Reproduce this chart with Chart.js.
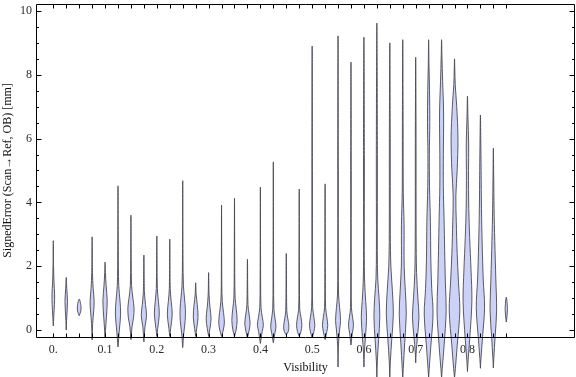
<!DOCTYPE html>
<html lang="es">
<head>
<meta charset="utf-8">
<title>SignedError vs Visibility</title>
<script src="https://cdn.jsdelivr.net/npm/chart.js@4.4.1/dist/chart.umd.min.js"></script>
<style>
    html, body { margin: 0; padding: 0; background: #fff; }
    #contenedor { width: 576px; height: 377px; }
</style>
</head>
<body>
<div id="contenedor"><canvas id="violines"></canvas></div>
<script>
// violines.js - error firmado por visibilidad

// Posición de cada violín (visibilidad)
const visibility = [0, 0.025, 0.05, 0.075, 0.1, 0.125, 0.15, 0.175, 0.2, 0.225, 0.25, 0.275,
    0.3, 0.325, 0.35, 0.375, 0.4, 0.425, 0.45, 0.475, 0.5, 0.525, 0.55, 0.575,
    0.6, 0.625, 0.65, 0.675, 0.7, 0.725, 0.75, 0.775, 0.8, 0.825, 0.85, 0.875];

// Extremos de cada distribución [mm]
const minVals = [0.13, 0.0, 0.45, -0.31, -0.25, -0.53, -0.3, -0.37, -0.2, -0.2, -0.55, -0.2,
    -0.2, -0.2, -0.2, -0.25, -0.42, -0.4, -0.15, -0.2, -0.25, -0.3, -1.16, -0.47,
    -1.16, -1.5, -1.5, -1.5, -1.03, -1.5, -1.5, -1.5, -1.3, -1.2, -1.19, 0.25];
const maxVals = [2.8, 1.65, 0.97, 2.92, 2.13, 4.52, 3.6, 2.35, 2.95, 2.85, 4.68, 1.48,
    1.8, 3.92, 4.13, 2.22, 4.48, 5.27, 2.4, 4.42, 8.9, 4.58, 9.22, 8.4,
    9.18, 9.62, 9.0, 9.1, 8.55, 9.1, 9.1, 8.5, 7.33, 6.74, 5.7, 1.03];

// Perfil de densidad de cada violín: [valor, densidad relativa]
const profiles = [
    [[0.4, 0.5], [0.8, 1.3], [1.1, 1.5], [1.5, 0.8], [2.0, 0.3]],
    [[0.3, 0.4], [0.9, 1.4], [1.3, 0.6]],
    [[0.6, 1.9], [0.78, 1.9]],
    [[0.2, 0.6], [0.6, 1.8], [0.9, 2.3], [1.3, 1.2], [1.8, 0.4]],
    [[0.2, 1.0], [0.6, 2.0], [0.95, 2.4], [1.4, 1.2], [1.8, 0.4]],
    [[0.0, 1.5], [0.5, 3.0], [0.9, 2.3], [1.4, 0.8], [2.5, 0.3]],
    [[0.1, 1.2], [0.4, 3.0], [0.7, 3.5], [1.0, 2.2], [1.4, 0.7], [2.2, 0.3]],
    [[0.1, 1.2], [0.45, 3.0], [0.8, 1.8], [1.2, 0.6]],
    [[0.05, 1.0], [0.5, 2.8], [0.9, 1.8], [1.3, 0.6]],
    [[0.05, 1.0], [0.5, 2.8], [0.9, 1.6], [1.3, 0.5]],
    [[-0.1, 1.2], [0.3, 2.8], [0.65, 3.0], [1.0, 2.0], [1.4, 0.8], [2.2, 0.3]],
    [[0.05, 1.2], [0.4, 2.7], [0.8, 1.8], [1.1, 0.6]],
    [[0.05, 1.5], [0.35, 2.8], [0.7, 1.6], [1.1, 0.5]],
    [[0.0, 2.0], [0.25, 3.2], [0.55, 2.2], [0.9, 0.8], [1.4, 0.3]],
    [[0.0, 1.8], [0.3, 3.0], [0.65, 2.0], [1.0, 0.7], [1.8, 0.3]],
    [[0.0, 2.0], [0.22, 3.0], [0.5, 1.8], [0.8, 0.6]],
    [[-0.05, 2.0], [0.15, 3.4], [0.4, 2.2], [0.7, 0.7], [1.5, 0.3]],
    [[-0.1, 1.8], [0.1, 3.0], [0.35, 2.0], [0.65, 0.7], [1.5, 0.3]],
    [[-0.05, 2.2], [0.12, 3.0], [0.35, 1.8], [0.6, 0.6]],
    [[-0.05, 2.0], [0.15, 3.0], [0.4, 2.0], [0.65, 0.6], [1.5, 0.3]],
    [[-0.05, 2.0], [0.15, 3.0], [0.4, 2.0], [0.7, 0.6], [2.0, 0.3], [5.0, 0.3]],
    [[-0.05, 2.0], [0.15, 3.0], [0.4, 2.0], [0.7, 0.6], [1.8, 0.3]],
    [[-0.5, 0.4], [0.0, 1.8], [0.3, 2.8], [0.7, 1.8], [1.1, 0.6], [2.0, 0.3], [5.0, 0.3]],
    [[-0.1, 1.5], [0.15, 2.8], [0.4, 1.8], [0.7, 0.5], [2.0, 0.3], [5.0, 0.3]],
    [[-0.7, 0.5], [-0.2, 1.8], [0.4, 3.0], [0.9, 2.0], [1.5, 0.8], [2.5, 0.4], [5.5, 0.5]],
    [[-1.0, 0.5], [-0.3, 2.0], [0.4, 3.3], [1.0, 2.5], [1.6, 1.0], [2.5, 0.5], [5.5, 0.6]],
    [[-1.0, 0.6], [-0.3, 2.2], [0.5, 4.0], [1.2, 3.0], [2.0, 1.2], [3.0, 0.6], [6.0, 0.5]],
    [[-1.2, 0.6], [-0.4, 2.2], [0.5, 4.0], [1.2, 3.0], [2.0, 1.6], [3.3, 1.5], [4.3, 0.6], [6.5, 0.4]],
    [[-0.7, 0.5], [-0.2, 2.0], [0.4, 3.7], [1.0, 2.5], [1.8, 1.0], [3.0, 0.5], [6.0, 0.4]],
    [[-1.2, 0.7], [-0.5, 2.5], [0.5, 5.0], [1.3, 3.5], [2.2, 2.5], [3.4, 2.0], [4.5, 1.0], [5.5, 0.8], [6.5, 1.3], [7.5, 1.0], [8.3, 0.4]],
    [[-1.2, 0.8], [-0.5, 2.8], [0.6, 5.2], [1.5, 4.3], [2.5, 3.5], [3.5, 2.8], [4.5, 2.0], [5.5, 2.0], [6.8, 2.3], [7.8, 1.2], [8.6, 0.4]],
    [[-1.2, 1.0], [-0.5, 3.0], [0.6, 6.0], [1.5, 4.5], [2.4, 3.0], [3.4, 2.0], [4.2, 1.5], [5.0, 3.0], [6.0, 3.9], [7.0, 2.5], [7.7, 0.8], [8.2, 0.3]],
    [[-1.0, 0.6], [-0.3, 2.5], [0.9, 5.0], [1.9, 4.0], [2.9, 2.5], [3.8, 1.5], [5.0, 1.2], [5.8, 1.4], [6.7, 0.5]],
    [[-0.9, 0.6], [-0.2, 2.5], [0.7, 4.7], [1.6, 3.2], [2.7, 2.0], [3.8, 1.2], [5.0, 0.8], [6.0, 0.4]],
    [[-0.9, 0.5], [-0.2, 2.0], [0.6, 3.7], [1.6, 2.8], [2.8, 1.6], [3.8, 0.8], [4.8, 0.4]],
    [[0.64, 1.3]]
];

// Etiquetas de los ejes
const xLabelValues = [0, 0.1, 0.2, 0.3, 0.4, 0.5, 0.6, 0.7, 0.8];
const xLabels = ['0.', '0.1', '0.2', '0.3', '0.4', '0.5', '0.6', '0.7', '0.8'];
const yTicks = [0, 0.5, 1, 1.5, 2, 2.5, 3, 3.5, 4, 4.5, 5, 5.5, 6, 6.5, 7, 7.5, 8, 8.5, 9, 9.5, 10];
const yLabels = ['0', '', '', '', '2', '', '', '', '4', '', '', '', '6', '', '', '', '8', '', '', '', '10'];

const DENSIDAD_A_X = 0.0017;   // ancho del violín en unidades de visibilidad
const RELLENO = 'rgb(204, 210, 247)';
const BORDE = 'rgba(70, 70, 78, 0.88)';
const TEXTO = '#2a2a2a';
const FUENTE = "'Liberation Serif', 'DejaVu Serif', serif";

// Contorno cerrado: sube por la derecha y baja por la izquierda
function contornoViolin(i) {
    const x0 = visibility[i];
    const derecha = profiles[i].map(([v, d]) => ({ x: x0 + d * DENSIDAD_A_X, y: v }));
    const izquierda = profiles[i].slice().reverse().map(([v, d]) => ({ x: x0 - d * DENSIDAD_A_X, y: v }));
    return [{ x: x0, y: minVals[i] }, ...derecha, { x: x0, y: maxVals[i] }, ...izquierda, { x: x0, y: minVals[i] }];
}

const datasets = visibility.map((v, i) => ({
    data: contornoViolin(i),
    indexAxis: 'y',
    fill: 'shape',
    backgroundColor: RELLENO,
    borderColor: BORDE,
    borderWidth: 1,
    pointRadius: 0,
    tension: 0.35,
    capBezierPoints: false,
    clip: false
}));

// Las colas bajan por debajo del eje: se deja pintar hasta el borde del lienzo
const sinRecorte = {
    id: 'sinRecorte',
    beforeDatasetsDraw(chart) {
        chart.$fondoOriginal = chart.chartArea.bottom;
        chart.chartArea.bottom = chart.height;
    },
    afterDatasetsDraw(chart) {
        chart.chartArea.bottom = chart.$fondoOriginal;
    }
};

// Marco estilo Mathematica con marcas hacia dentro
const marco = {
    id: 'marco',
    afterDatasetsDraw(chart) {
        const { ctx, chartArea: a, scales: { x, y } } = chart;
        const izq = Math.round(a.left) + 0.5;
        const der = Math.round(a.right) - 0.5;
        const arr = Math.round(a.top) + 0.5;
        const abj = Math.round(a.bottom) + 0.5;
        ctx.save();
        ctx.strokeStyle = '#000';
        ctx.lineWidth = 1;
        ctx.beginPath();
        ctx.rect(izq, arr, der - izq, abj - arr);
        x.ticks.forEach(t => {
            const px = Math.round(x.getPixelForValue(t.value)) + 0.5;
            ctx.moveTo(px, abj); ctx.lineTo(px, abj - 4);
            ctx.moveTo(px, arr); ctx.lineTo(px, arr + 4);
        });
        y.ticks.forEach(t => {
            const py = Math.round(y.getPixelForValue(t.value)) + 0.5;
            const largo = t.value % 2 === 0 ? 5 : 2.5;
            ctx.moveTo(izq, py); ctx.lineTo(izq + largo, py);
            ctx.moveTo(der, py); ctx.lineTo(der - largo, py);
        });
        ctx.stroke();
        ctx.restore();
    }
};

new Chart(document.getElementById('violines'), {
    type: 'line',
    data: { datasets },
    options: {
        responsive: true,
        maintainAspectRatio: false,
        animation: false,
        layout: { padding: { top: 4, right: 1, left: 0, bottom: 0 } },
        plugins: {
            legend: { display: false },
            tooltip: { enabled: false }
        },
        scales: {
            x: {
                type: 'linear',
                min: -0.0334,
                max: 1.0077,
                afterBuildTicks: s => { s.ticks = visibility.map(v => ({ value: v })); },
                afterFit: s => { s.height = 40; s.paddingLeft = 0; s.paddingRight = 0; },
                grid: { display: false, drawTicks: false },
                border: { display: false },
                ticks: {
                    autoSkip: false,
                    maxRotation: 0,
                    padding: 6,
                    color: TEXTO,
                    font: { family: FUENTE, size: 12 },
                    callback: value => {
                        const k = xLabelValues.findIndex(t => Math.abs(t - value) < 1e-6);
                        return k >= 0 ? xLabels[k] : '';
                    }
                },
                title: {
                    display: true,
                    text: 'Visibility',
                    color: '#111',
                    font: { family: FUENTE, size: 12 },
                    padding: { top: 0, bottom: 2 }
                }
            },
            y: {
                type: 'linear',
                min: -0.219,
                max: 10.219,
                afterBuildTicks: s => { s.ticks = yTicks.map(v => ({ value: v })); },
                afterFit: s => { s.width = 36; s.paddingTop = 0; s.paddingBottom = 0; },
                grid: { display: false, drawTicks: false },
                border: { display: false },
                ticks: {
                    autoSkip: false,
                    padding: 4,
                    color: TEXTO,
                    font: { family: FUENTE, size: 12 },
                    callback: (value, index) => yLabels[index]
                },
                title: {
                    display: true,
                    text: 'SignedError (Scan→Ref, OB) [mm]',
                    color: '#111',
                    font: { family: FUENTE, size: 12 },
                    padding: { top: 1, bottom: 0 }
                }
            }
        }
    },
    plugins: [sinRecorte, marco]
});
</script>
</body>
</html>
